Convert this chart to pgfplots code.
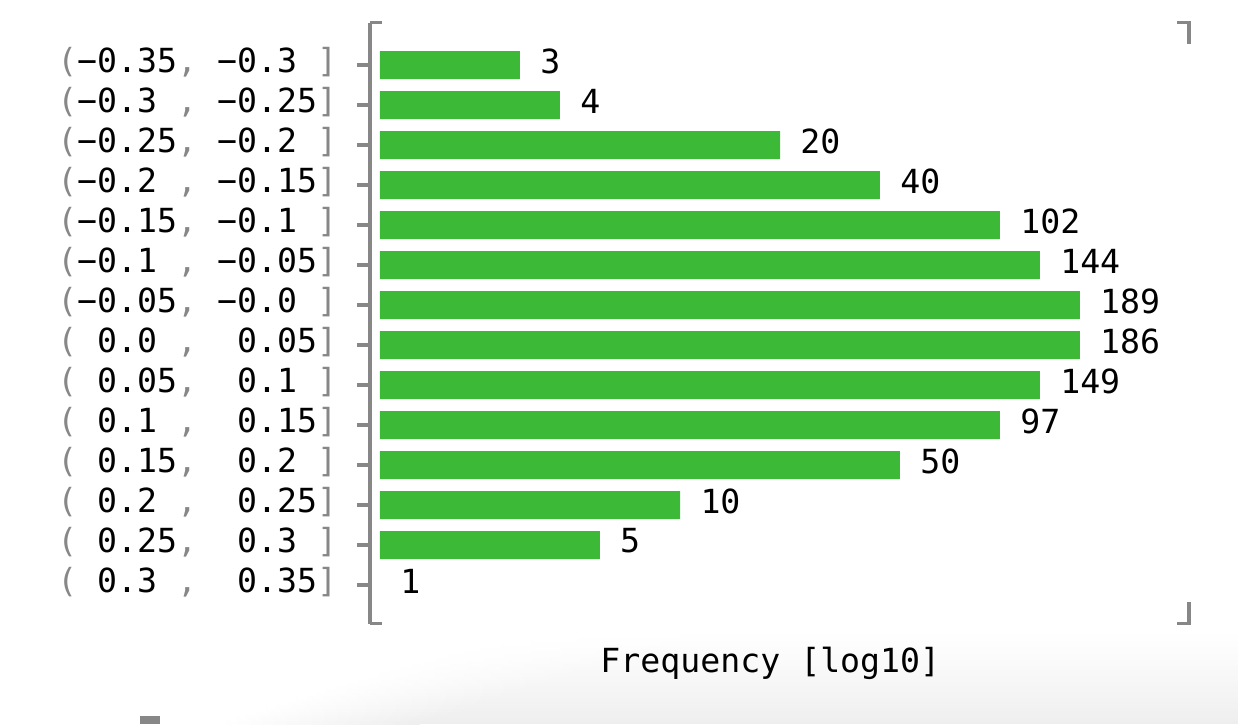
\documentclass[border=0pt]{standalone}
\usepackage{fontspec}
\setmainfont{DejaVu Sans Mono}
\usepackage{pgfplots}
\pgfplotsset{compat=1.18}
\usepackage{pgfplotstable}

\definecolor{bargreen}{RGB}{60,185,55}
\definecolor{axgray}{RGB}{135,135,135}
\newcommand{\fs}{\fontsize{16.6pt}{20pt}\selectfont}
\newcommand{\g}[1]{\textcolor{axgray}{#1}}
\newcommand{\s}{\hphantom{0}}

% bar length = log10(count), as drawn; count is the printed label
\pgfplotstableread{
idx len   count
0   0.455 3
1   0.585 4
2   1.301 20
3   1.626 40
4   2.016 102
5   2.146 144
6   2.276 189
7   2.276 186
8   2.146 149
9   2.016 97
10  1.691 50
11  0.976 10
12  0.715 5
13  0     1
}\histdata

\begin{document}
\begin{tikzpicture}
\useasboundingbox (0,0) rectangle (619pt,362pt);
% soft window shadow at the bottom of the screenshot
\foreach \i in {0,...,27} {
  \pgfmathsetmacro{\ya}{\i*1.6}
  \pgfmathsetmacro{\yb}{\ya+1.7}
  \pgfmathsetmacro{\k}{6.5*(1-\ya/44.8)^1.1}
  \pgfmathsetmacro{\xa}{110+\ya*3.0}
  \pgfmathsetmacro{\xb}{\xa+100}
  \shade[left color=white, right color=black!\k] (\xa pt,\ya pt) rectangle (\xb pt,\yb pt);
  \fill[black!\k] (\xb pt-0.2pt,\ya pt) rectangle (619pt,\yb pt);
}
\fill[axgray] (70pt,0pt) rectangle (80pt,4pt);

\begin{axis}[
  at={(185pt,50.25pt)}, anchor=south west,
  scale only axis, width=409.5pt, height=300.5pt,
  xbar, bar width=14pt, bar shift=0pt,
  xmin=-0.0325, xmax=2.631,
  ymin=-1.0625, ymax=13.9625, y dir=reverse,
  axis x line=none, axis y line*=left,
  axis line style={axgray, line width=1.7pt},
  xtick=\empty,
  ytick={0,...,13},
  tick align=outside, major tick length=6.5pt,
  y tick style={axgray, line width=1.6pt},
  yticklabel style={font=\fs, anchor=east, inner sep=0pt, xshift=-9.75pt, yshift=1.5pt},
  yticklabels={
    {\g{(}−0.35\g{,}\s−0.3\s\g{]}},
    {\g{(}−0.3\s\g{,}\s−0.25\g{]}},
    {\g{(}−0.25\g{,}\s−0.2\s\g{]}},
    {\g{(}−0.2\s\g{,}\s−0.15\g{]}},
    {\g{(}−0.15\g{,}\s−0.1\s\g{]}},
    {\g{(}−0.1\s\g{,}\s−0.05\g{]}},
    {\g{(}−0.05\g{,}\s−0.0\s\g{]}},
    {\g{(}\s0.0\s\g{,}\s\s0.05\g{]}},
    {\g{(}\s0.05\g{,}\s\s0.1\s\g{]}},
    {\g{(}\s0.1\s\g{,}\s\s0.15\g{]}},
    {\g{(}\s0.15\g{,}\s\s0.2\s\g{]}},
    {\g{(}\s0.2\s\g{,}\s\s0.25\g{]}},
    {\g{(}\s0.25\g{,}\s\s0.3\s\g{]}},
    {\g{(}\s0.3\s\g{,}\s\s0.35\g{]}}
  },
  point meta=explicit symbolic,
  every node near coord/.append style={font=\fs, black, anchor=west, inner sep=0pt, xshift=10pt, yshift=2pt},
  clip=false,
]
% the bars (the empty last bin draws no bar)
\addplot[fill=bargreen, draw=none, bar shift=0pt, skip coords between index={13}{14}]
  table[x=len, y=idx, meta=count] {\histdata};
% the counts at the bar ends
\addplot[fill=none, draw=none, bar shift=0pt, nodes near coords]
  table[x=len, y=idx, meta=count] {\histdata};
\end{axis}

% bracket corners of the frame
\draw[axgray, line width=1.7pt] (185pt,350.75pt) -- (191pt,350.75pt);
\draw[axgray, line width=1.7pt] (185pt,50.25pt) -- (191pt,50.25pt);
\draw[axgray, line width=1.7pt] (588.5pt,350.75pt) -- (594.5pt,350.75pt) -- (594.5pt,340pt);
\draw[axgray, line width=1.7pt] (588.5pt,50.25pt) -- (594.5pt,50.25pt) -- (594.5pt,61pt);

\node[font=\fs, anchor=base west, inner sep=0pt] at (300pt,26pt) {Frequency [log10]};
\end{tikzpicture}
\end{document}
